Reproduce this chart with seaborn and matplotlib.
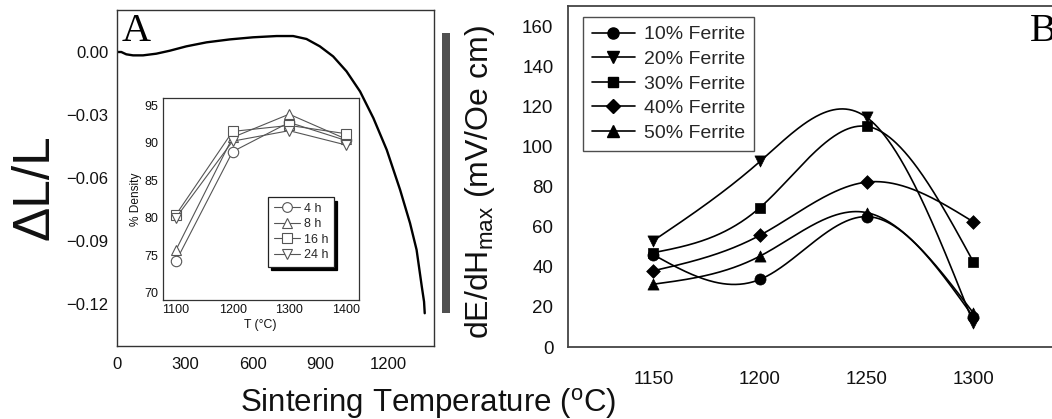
import numpy as np
import matplotlib
matplotlib.use("Agg")
import matplotlib.pyplot as plt
from matplotlib.lines import Line2D
from matplotlib.patches import Rectangle
import seaborn as sns

# ---- Panel A: dilatometric shrinkage curve ----
dil_temp = [0, 19, 41, 71, 115, 174, 233, 307, 396, 499, 602, 706, 779, 838,
            897, 956, 1015, 1075, 1134, 1193, 1252, 1296, 1325, 1348, 1358, 1361]
dil_strain = [0.0, 0.0, -0.0011, -0.0016, -0.0016, -0.0008, 0.0006, 0.0027,
              0.0046, 0.0060, 0.0070, 0.0076, 0.0076, 0.0062, 0.0027, -0.0021,
              -0.0092, -0.0188, -0.0315, -0.0466, -0.0656, -0.0815, -0.0942,
              -0.1117, -0.1189, -0.1244]

# ---- Inset: relative density vs sintering temperature ----
dens_temp = [1100, 1200, 1300, 1400]
dens_labels = ["4 h", "8 h", "16 h", "24 h"]
dens_4h = [74.2, 88.8, 92.7, 90.3]
dens_8h = [75.7, 90.7, 93.8, 90.5]
dens_16h = [80.4, 91.5, 92.3, 91.2]
dens_24h = [80.0, 90.2, 91.6, 89.7]

# ---- Panel B: maximum ME coefficient ----
me_temp = [1150, 1200, 1250, 1300]
me_labels = ["10% Ferrite", "20% Ferrite", "30% Ferrite", "40% Ferrite", "50% Ferrite"]
me_10 = [46.0, 33.7, 65.0, 15.0]
me_20 = [53.0, 92.5, 114.5, 12.0]
me_30 = [47.0, 69.5, 110.0, 42.5]
me_40 = [38.0, 55.7, 82.2, 62.4]
me_50 = [31.3, 45.3, 67.0, 17.0]

A_xticks = [0, 300, 600, 900, 1200]
A_yticks = [0.00, -0.03, -0.06, -0.09, -0.12]
A_yticklabels = ["0.00", "\u22120.03", "\u22120.06", "\u22120.09", "\u22120.12"]
inset_xticks = [1100, 1200, 1300, 1400]
inset_yticks = [70, 75, 80, 85, 90, 95]
B_xticks = [1150, 1200, 1250, 1300]
B_yticks = [0, 20, 40, 60, 80, 100, 120, 140, 160]


def natural_spline(x, y, n=300):
    x = np.asarray(x, float)
    y = np.asarray(y, float)
    k = len(x)
    h = np.diff(x)
    A = np.zeros((k, k))
    r = np.zeros(k)
    A[0, 0] = A[-1, -1] = 1.0
    for i in range(1, k - 1):
        A[i, i - 1] = h[i - 1]
        A[i, i] = 2 * (h[i - 1] + h[i])
        A[i, i + 1] = h[i]
        r[i] = 6 * ((y[i + 1] - y[i]) / h[i] - (y[i] - y[i - 1]) / h[i - 1])
    M = np.linalg.solve(A, r)
    xs = np.linspace(x[0], x[-1], n)
    idx = np.clip(np.searchsorted(x, xs) - 1, 0, k - 2)
    x0, x1 = x[idx], x[idx + 1]
    hh = x1 - x0
    t0, t1 = x1 - xs, xs - x0
    ys = (M[idx] * t0 ** 3 / (6 * hh) + M[idx + 1] * t1 ** 3 / (6 * hh)
          + (y[idx] / hh - M[idx] * hh / 6) * t0
          + (y[idx + 1] / hh - M[idx + 1] * hh / 6) * t1)
    return xs, ys


sns.set_theme(style="white")
plt.rcParams["font.family"] = ["Liberation Sans", "DejaVu Sans"]
plt.rcParams["mathtext.fontset"] = "custom"
plt.rcParams["mathtext.rm"] = "Liberation Sans"
plt.rcParams["mathtext.it"] = "Liberation Sans:italic"
plt.rcParams["mathtext.bf"] = "Liberation Sans:bold"

W, H = 1052, 419
fig = plt.figure(figsize=(W / 100, H / 100), dpi=100)
fig.patch.set_facecolor("white")


def px_axes(left, top, right, bottom):
    return fig.add_axes([left / W, (H - bottom) / H, (right - left) / W, (bottom - top) / H])


# ================= Panel A =================
axA = px_axes(117, 10, 434, 346)
sns.lineplot(x=dil_temp, y=dil_strain, ax=axA, color="black", lw=1.7, sort=False)
axA.set_xlim(0, 1402)
axA.set_ylim(-0.14, 0.02)
axA.set_xticks(A_xticks)
axA.set_xticklabels([str(t) for t in A_xticks])
axA.set_yticks(A_yticks)
axA.set_yticklabels(A_yticklabels)
axA.set_xticks([150, 450, 750, 1050, 1350], minor=True)
axA.set_yticks([0.015, -0.015, -0.045, -0.075, -0.105, -0.135], minor=True)
axA.tick_params(axis="both", which="major", direction="in", length=3.5, width=0.9,
                colors="#333333", labelcolor="#111111", labelsize=12)
axA.tick_params(axis="both", which="minor", direction="in", length=2, width=0.8,
                colors="#333333")
axA.tick_params(axis="x", pad=8)
axA.tick_params(axis="y", pad=6)
for s in axA.spines.values():
    s.set_color("#333333")
    s.set_linewidth(1.0)
axA.set_xlabel("")
axA.set_ylabel("")
axA.text(0.014, 0.99, "A", transform=axA.transAxes, ha="left", va="top",
         fontsize=29, family=["Liberation Serif", "DejaVu Serif"], color="black")

fig.text(35 / W, (H - 187) / H, "\u0394L/L", rotation=90, ha="center", va="center",
         fontsize=37, color="#111111")
fig.text(428 / W, (H - 403) / H, r"Sintering Temperature ($\mathregular{^{o}}$C)",
         ha="center", va="center", fontsize=22.5, color="#111111")

# ================= Inset =================
axI = px_axes(162.5, 97.7, 359, 300)
axI.set_facecolor("white")
dens_series = [dens_4h, dens_8h, dens_16h, dens_24h]
dens_markers = ["o", "^", "s", "v"]
for vals, mk in zip(dens_series, dens_markers):
    sns.lineplot(x=dens_temp, y=vals, ax=axI, color="#555555", lw=0.8,
                 marker=mk, markersize=7.5, markerfacecolor="white",
                 markeredgecolor="#555555", markeredgewidth=0.8)
axI.set_xlim(1076, 1423.5)
axI.set_ylim(69.0, 96.0)
axI.set_xticks(inset_xticks)
axI.set_yticks(inset_yticks)
axI.set_xticks([1150, 1250, 1350], minor=True)
axI.set_yticks([72.5, 77.5, 82.5, 87.5, 92.5], minor=True)
axI.tick_params(axis="both", which="major", direction="in", length=3, width=0.8,
                colors="#333333", labelcolor="#111111", labelsize=9, pad=3)
axI.tick_params(axis="both", which="minor", direction="in", length=1.8, width=0.7,
                colors="#333333")
for s in axI.spines.values():
    s.set_color("#333333")
    s.set_linewidth(0.9)
axI.set_xlabel("T (\u00b0C)", fontsize=8.8, labelpad=2, color="#111111")
axI.set_ylabel("% Density", fontsize=8.6, labelpad=2, color="#111111")
inset_handles = [Line2D([0], [0], color="#555555", lw=0.8, marker=mk, markersize=7,
                        markerfacecolor="white", markeredgecolor="#555555",
                        markeredgewidth=0.8) for mk in dens_markers]
legI = axI.legend(inset_handles, dens_labels, loc="upper left",
                  bbox_to_anchor=(0.537, 0.509), borderaxespad=0, frameon=True,
                  fancybox=False, fontsize=9, handlelength=2.1, handletextpad=0.3,
                  labelspacing=0.28, borderpad=0.45,
                  shadow={"color": "black", "alpha": 1.0, "ox": 2.5, "oy": -2.5})
legI.get_frame().set_edgecolor("#222222")
legI.get_frame().set_linewidth(0.9)

# ================= Gray bar between panels =================
fig.patches.append(Rectangle((441.7 / W, (H - 313) / H), 8.3 / W, 280 / H,
                             transform=fig.transFigure, facecolor="#505050",
                             edgecolor="none"))

# ================= Panel B =================
axB = px_axes(568, 6, 1058.6, 347)
me_series = [me_10, me_20, me_30, me_40, me_50]
me_markers = ["o", "v", "s", "D", "^"]
me_sizes = [8, 8, 7.5, 7, 8]
for vals, mk, ms in zip(me_series, me_markers, me_sizes):
    xs, ys = natural_spline(me_temp, vals)
    sns.lineplot(x=xs, y=ys, ax=axB, color="black", lw=1.2, sort=False)
    sns.scatterplot(x=me_temp, y=vals, ax=axB, marker=mk, s=ms ** 2,
                    color="black", edgecolor="black", linewidth=0.5, zorder=3)
axB.set_xlim(1110, 1340)
axB.set_ylim(0, 170)
axB.set_xticks(B_xticks)
axB.set_yticks(B_yticks)
axB.tick_params(axis="both", which="major", direction="out", length=4.5, width=1.0,
                colors="#333333", labelcolor="#111111", labelsize=13.5)
axB.tick_params(axis="x", pad=13)
axB.tick_params(axis="y", pad=6)
for s in axB.spines.values():
    s.set_color("#444444")
    s.set_linewidth(1.3)
axB.set_xlabel("")
axB.set_ylabel("")
me_handles = [Line2D([0], [0], color="black", lw=1.2, marker=mk, markersize=ms,
                     markerfacecolor="black", markeredgecolor="black")
              for mk, ms in zip(me_markers, me_sizes)]
legB = axB.legend(me_handles, me_labels, loc="upper left",
                  bbox_to_anchor=(0.0306, 0.9677), borderaxespad=0, frameon=True,
                  fancybox=False, fontsize=14, handlelength=2.2, handletextpad=0.5,
                  labelspacing=0.36, borderpad=0.45)
legB.get_frame().set_edgecolor("#222222")
legB.get_frame().set_linewidth(1.0)
axB.text(1030 / W, (H - 13) / H, "B", transform=fig.transFigure, ha="left", va="top",
         fontsize=29, family=["Liberation Serif", "DejaVu Serif"], color="black")

fig.text(480 / W, (H - 182) / H, r"dE/dH$_{\mathregular{max}}$ (mV/Oe cm)",
         rotation=90, ha="center", va="center", fontsize=23, color="#111111")

fig.savefig("out.png", dpi=100, facecolor="white")
